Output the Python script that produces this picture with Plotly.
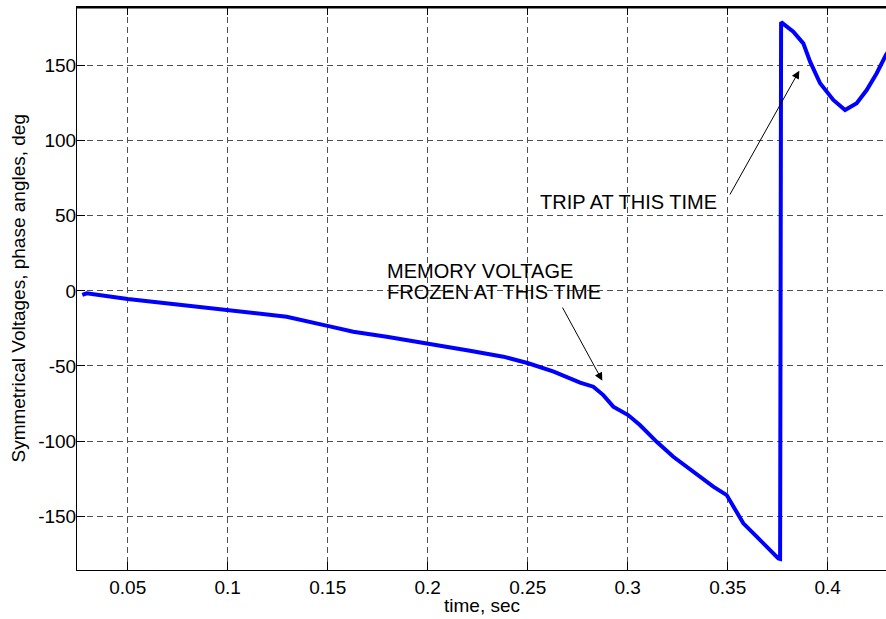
import plotly.graph_objects as go

# time (s) and phase angle (deg)
time_s = [0.0273, 0.0295, 0.05, 0.075, 0.1, 0.1295, 0.151, 0.1628, 0.1795, 0.2003,
          0.2211, 0.2378, 0.2503, 0.263, 0.2762, 0.2828, 0.2878, 0.2928, 0.3002,
          0.3061, 0.3145, 0.3228, 0.3328, 0.3428, 0.3495, 0.3528, 0.3578, 0.3645,
          0.3711, 0.3753, 0.3762, 0.3764, 0.3767, 0.3828, 0.3878, 0.3912, 0.3962,
          0.4028, 0.4087, 0.4145, 0.4195, 0.4245, 0.4291, 0.432]
angle_deg = [-2.7, -1.6, -5.4, -9.2, -13.2, -17.2, -23.6, -27.2, -30.5, -34.9,
             -39.8, -43.8, -48.2, -53.8, -61.1, -63.8, -69.4, -77.1, -82.7,
             -89.3, -100.5, -110.5, -120.5, -130.4, -136.0, -143.8, -154.8, -163.7,
             -172.6, -178.2, -178.5, 179.0, 179.0, 172.7, 164.9, 152.7, 138.3,
             127.2, 120.5, 125.0, 133.8, 145.0, 157.2, 163.0]

x_ticks = [0.05, 0.1, 0.15, 0.2, 0.25, 0.3, 0.35, 0.4]
x_tick_labels = ["0.05", "0.1", "0.15", "0.2", "0.25", "0.3", "0.35", "0.4"]
y_ticks = [-150, -100, -50, 0, 50, 100, 150]
y_tick_labels = ["-150", "-100", "-50", "0", "50", "100", "150"]

FONT = "Liberation Sans, Arial, Helvetica, sans-serif"
FS = 19
AFS = 20

fig = go.Figure()
fig.add_trace(go.Scatter(x=time_s, y=angle_deg, mode="lines",
                         line=dict(color="#0000FF", width=4), showlegend=False,
                         hoverinfo="skip"))

grid = dict(showgrid=True, gridcolor="#505050", gridwidth=1, griddash="6px,4px",
            zeroline=False, showline=True, linecolor="black", linewidth=1,
            ticks="inside", ticklen=8, tickcolor="black", automargin=False,
            tickfont=dict(family=FONT, size=FS, color="black"))

fig.update_xaxes(range=[0.02465, 0.42915], tickvals=x_ticks, ticktext=x_tick_labels,
                 mirror="ticks", **grid)
fig.update_yaxes(range=[-185.9, 189.1], tickvals=y_ticks, ticktext=y_tick_labels,
                 mirror=False, ticklabelstandoff=-4, **grid)

ann_font = dict(family=FONT, size=AFS, color="black")
title_font = dict(family=FONT, size=FS, color="black")
annotations = [
    dict(x=0.5, y=-0.0639, xref="paper", yref="paper", text="time, sec",
         showarrow=False, xanchor="center", yanchor="middle", font=title_font),
    dict(x=-0.0729, y=0.5, xref="paper", yref="paper",
         text="Symmetrical Voltages, phase angles, deg", textangle=-90,
         showarrow=False, xanchor="center", yanchor="middle", font=title_font),
    dict(x=0.1787, y=13.5, text="MEMORY VOLTAGE", showarrow=False,
         xanchor="left", yanchor="middle", font=ann_font),
    dict(x=0.1787, y=-0.5, text="FROZEN AT THIS TIME", showarrow=False,
         xanchor="left", yanchor="middle", font=ann_font),
    dict(x=0.2551, y=59.4, text="TRIP AT THIS TIME", showarrow=False,
         xanchor="left", yanchor="middle", font=ann_font),
    dict(x=0.2873, y=-59.8, ax=0.267, ay=-10.1, axref="x", ayref="y", text="",
         showarrow=True, arrowhead=2, arrowsize=1.6, arrowwidth=1, arrowcolor="black"),
    dict(x=0.3858, y=146.7, ax=0.3507, ay=63.2, axref="x", ayref="y", text="",
         showarrow=True, arrowhead=2, arrowsize=1.6, arrowwidth=1, arrowcolor="black"),
]

# top frame edge (box on; right edge lies outside the cropped picture)
fig.add_shape(type="line", xref="paper", yref="paper", x0=0, x1=1, y0=0.999, y1=0.999,
              line=dict(color="black", width=2), layer="above")

fig.update_layout(width=886, height=619, margin=dict(l=77, r=0, t=7, b=49),
                  paper_bgcolor="white", plot_bgcolor="white", hovermode=False,
                  annotations=annotations, font=dict(family=FONT, size=FS, color="black"))

fig.write_html("out.html", config={"displayModeBar": False},
               post_script="document.body.style.margin='0px';document.body.style.overflow='hidden';")
